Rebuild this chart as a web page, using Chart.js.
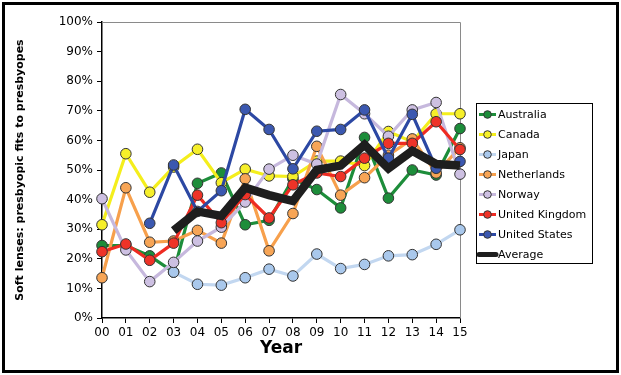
<!DOCTYPE html>
<html>
<head>
<meta charset="utf-8">
<script src="https://cdn.jsdelivr.net/npm/chart.js@4.4.1/dist/chart.umd.min.js"></script>
<style>
    html, body { margin: 0; padding: 0; background: #fff; }
    #wrap { width: 621px; height: 375px; position: relative; }
</style>
</head>
<body>
<div id="wrap"><canvas id="chart"></canvas></div>
<script>
const YEARS = ['00', '01', '02', '03', '04', '05', '06', '07', '08', '09', '10', '11', '12', '13', '14', '15'];

// porcentaje de adaptaciones presbiopicas por pais
const AUSTRALIA   = [24.5, 24.5, 21, 15.5, 45.5, 49, 31.5, 33, 47, 43.4, 37.2, 61, 40.5, 50, 48.3, 64];
const CANADA      = [31.5, 55.5, 42.5, 51, 57, 45.7, 50.3, 48, 47.8, 53, 53, 51.5, 63, 59.5, 69, 69];
const JAPAN       = [null, null, null, 15.5, 11.4, 11.1, 13.6, 16.5, 14.2, 21.6, 16.7, 18.1, 21, 21.4, 24.9, 29.8];
const NETHERLANDS = [13.6, 44, 25.6, 26, 29.6, 25.3, 47, 22.7, 35.3, 58, 41.5, 47.4, 55, 60.5, 49, 57.5];
const NORWAY      = [40.3, 23, 12.3, 18.8, 26, 30.7, 39.2, 50.3, 55, 52, 75.5, 69, 61.4, 70.3, 72.8, 48.6];
const UK          = [22.4, 25, 19.5, 25.3, 41.5, 32.2, 41.7, 33.8, 45, 49, 47.8, 54, 59, 59, 66.3, 56.9];
const US          = [null, null, 32, 51.7, 36, 43, 70.5, 63.7, 50.4, 63.1, 63.7, 70.3, 54, 68.8, 50.6, 52.9];
const AVERAGE     = [null, null, null, 29.5, 36, 34.5, 44, 41.5, 39.5, 50, 51.5, 58.5, 50.5, 56.5, 52, 51.5];

const Y_TICKS = [0, 10, 20, 30, 40, 50, 60, 70, 80, 90, 100];

const COUNTRY_COLORS = {
    'Australia': { line: '#1d8d3a', point: '#1d8d3a' },
    'Canada': { line: '#f4ee1c', point: '#f6ef2a' },
    'Japan': { line: '#c2d7f0', point: '#a9c8ec' },
    'Netherlands': { line: '#f7a04c', point: '#f7a556' },
    'Norway': { line: '#c6b8dd', point: '#cdc0e2' },
    'United Kingdom': { line: '#ee2b22', point: '#ee3328' },
    'United States': { line: '#2c48a3', point: '#3b58b0' },
};

// orden de dibujo: como en excel, la ultima serie queda encima
function countryDataset(label, data, order) {
    const c = COUNTRY_COLORS[label];
    return {
        label,
        data,
        borderColor: c.line,
        backgroundColor: c.point,
        pointBackgroundColor: c.point,
        pointBorderColor: '#333',
        pointBorderWidth: 1,
        pointRadius: 5.3,
        borderWidth: 3.2,
        tension: 0,
        spanGaps: false,
        order,
    };
}

// marco exterior y bordes superior/derecho del area
const framePlugin = {
    id: 'framePlugin',
    beforeDatasetsDraw(chart) {
        const { ctx, chartArea: a } = chart;
        ctx.save();
        ctx.strokeStyle = '#8a8a8a';
        ctx.lineWidth = 1;
        ctx.beginPath();
        ctx.moveTo(a.left, a.top + 0.5);
        ctx.lineTo(a.right + 0.5, a.top + 0.5);
        ctx.lineTo(a.right + 0.5, a.bottom);
        ctx.stroke();
        ctx.restore();
    },
    afterDraw(chart) {
        const ctx = chart.ctx;
        ctx.save();
        ctx.strokeStyle = '#000';
        ctx.lineWidth = 3;
        ctx.strokeRect(3.5, 3.5, 614, 368);
        ctx.restore();
    }
};

// leyenda con recuadro, linea + circulo
const legendBox = {
    id: 'legendBox',
    afterDraw(chart) {
        const ctx = chart.ctx;
        const x0 = 476, y0 = 103, w = 116, h = 160;
        ctx.save();
        ctx.fillStyle = '#fff';
        ctx.fillRect(x0, y0, w, h);
        ctx.strokeStyle = '#000';
        ctx.lineWidth = 1;
        ctx.strokeRect(x0 + 0.5, y0 + 0.5, w, h);
        ctx.font = '11px "DejaVu Sans"';
        ctx.textBaseline = 'middle';
        chart.data.datasets.forEach((ds, i) => {
            const y = y0 + 11.5 + i * 20;
            ctx.strokeStyle = ds.borderColor;
            ctx.lineWidth = ds.pointRadius ? 3 : 5;
            ctx.lineCap = ds.pointRadius ? 'butt' : 'round';
            ctx.beginPath();
            ctx.moveTo(x0 + 3, y);
            ctx.lineTo(x0 + 20, y);
            ctx.stroke();
            if (ds.pointRadius) {
                ctx.beginPath();
                ctx.arc(x0 + 11.5, y, 3.8, 0, Math.PI * 2);
                ctx.fillStyle = ds.pointBackgroundColor;
                ctx.fill();
                ctx.lineWidth = 1;
                ctx.strokeStyle = '#333';
                ctx.stroke();
            }
            ctx.fillStyle = '#000';
            ctx.fillText(ds.label, x0 + 22, y + 0.5);
        });
        ctx.restore();
    }
};

const ctx = document.getElementById('chart').getContext('2d');
new Chart(ctx, {
    type: 'line',
    data: {
        labels: YEARS,
        datasets: [
            countryDataset('Australia', AUSTRALIA, 9),
            countryDataset('Canada', CANADA, 8),
            countryDataset('Japan', JAPAN, 7),
            countryDataset('Netherlands', NETHERLANDS, 6),
            countryDataset('Norway', NORWAY, 5),
            countryDataset('United Kingdom', UK, 4),
            countryDataset('United States', US, 3),
            {
                label: 'Average',
                data: AVERAGE,
                borderColor: '#1e1e1e',
                backgroundColor: '#1e1e1e',
                borderWidth: 8.5,
                pointRadius: 0,
                pointHoverRadius: 0,
                tension: 0,
                order: 1,
            }
        ]
    },
    options: {
        responsive: true,
        maintainAspectRatio: false,
        devicePixelRatio: 1,
        animation: false,
        events: [],
        layout: { padding: { left: 10, right: 161, top: 22, bottom: 12 } },
        plugins: {
            legend: { display: false },
            tooltip: { enabled: false }
        },
        scales: {
            x: {
                offset: false,
                afterFit: (scale) => { scale.height = 375 - 12 - 318; },
                ticks: {
                    color: '#000',
                    font: { family: 'DejaVu Sans', size: 12 },
                    maxRotation: 0,
                    autoSkip: false,
                    padding: 3
                },
                grid: { display: true, drawOnChartArea: false, drawTicks: true, tickLength: 5, color: '#000' },
                border: { display: true, color: '#000', width: 1.5 },
                title: {
                    display: true,
                    text: 'Year',
                    color: '#000',
                    font: { family: 'DejaVu Sans', size: 17, weight: 'bold' },
                    padding: { top: 5 }
                }
            },
            y: {
                min: 0,
                max: 100,
                afterFit: (scale) => { scale.width = 92; },
                afterBuildTicks: (scale) => { scale.ticks = Y_TICKS.map(v => ({ value: v })); },
                ticks: {
                    color: '#000',
                    font: { family: 'DejaVu Sans', size: 12 },
                    callback: (v) => v + '%',
                    padding: 4
                },
                grid: { display: true, drawOnChartArea: false, drawTicks: true, tickLength: 5, color: '#000' },
                border: { display: true, color: '#000', width: 1.5 },
                title: {
                    display: true,
                    text: 'Soft lenses: presbyopic fits to presbyopes',
                    color: '#000',
                    font: { family: 'DejaVu Sans', size: 11, weight: 'bold' },
                    padding: { bottom: 4 }
                }
            }
        }
    },
    plugins: [framePlugin, legendBox]
});
</script>
</body>
</html>
